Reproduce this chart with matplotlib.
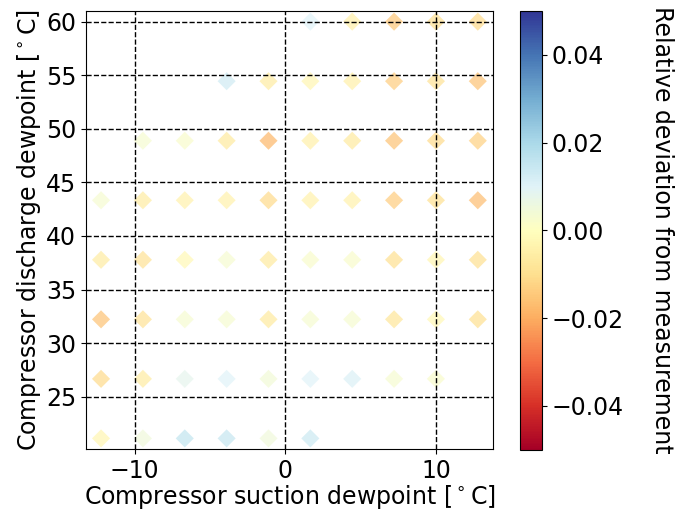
import numpy as np
import matplotlib
matplotlib.use("Agg")
import matplotlib.pyplot as plt

# -----------------------------
# Data (test points, degF grid converted to degC)
# -----------------------------
suction_f = [10, 15, 20, 25, 30, 35, 40, 45, 50, 55]
discharge_f = [70, 80, 90, 100, 110, 120, 130, 140]

# relative deviation per discharge row, None = no test point
dev_rows = {
    140: [None, None, None, None, None, 0.010, -0.005, -0.015, -0.010, -0.011],
    130: [None, None, None, 0.013, -0.006, -0.003, -0.005, -0.014, -0.009, -0.016],
    120: [None, 0.003, 0.002, -0.007, -0.018, -0.005, -0.007, -0.016, -0.011, -0.013],
    110: [0.003, -0.006, -0.004, -0.004, -0.011, -0.004, -0.004, -0.014, -0.010, -0.017],
    100: [-0.006, -0.009, -0.002, 0.003, -0.007, 0.002, 0.002, -0.010, -0.003, -0.010],
    90:  [-0.016, -0.009, 0.003, 0.003, -0.007, 0.003, 0.003, -0.008, -0.002, -0.010],
    80:  [-0.011, -0.006, 0.008, 0.010, 0.004, 0.010, 0.011, 0.003, 0.002, None],
    70:  [-0.003, 0.005, 0.016, 0.015, 0.005, 0.014, None, None, None, None],
}

def f2c(t):
    return (t - 32.0) * 5.0 / 9.0

xs, ys, devs = [], [], []
for td in discharge_f:
    for ts, d in zip(suction_f, dev_rows[td]):
        if d is None:
            continue
        xs.append(f2c(ts))
        ys.append(f2c(td))
        devs.append(d)
xs = np.array(xs)
ys = np.array(ys)
devs = np.array(devs)

# -----------------------------
# Plot
# -----------------------------
plt.rcParams['font.size'] = 17

fig = plt.figure(figsize=(6.77, 5.21), dpi=100)
ax = fig.add_axes([0.127, 0.138, 0.601, 0.841])
cax = fig.add_axes([0.768, 0.137, 0.033, 0.842])

sc = ax.scatter(xs, ys, c=devs, cmap='RdYlBu', vmin=-0.05, vmax=0.05,
                marker='D', s=85, alpha=0.7, linewidths=0)

ax.set_xlim(xs.min() - 1, xs.max() + 1)
ax.set_ylim(ys.min() - 1, ys.max() + 1)
ax.set_xticks([-10, 0, 10])
ax.set_yticks([25, 30, 35, 40, 45, 50, 55, 60])
ax.grid(True, color='k', linestyle='--', linewidth=1)
ax.set_xlabel(r'Compressor suction dewpoint [$^\circ$C]', labelpad=0)
ax.set_ylabel(r'Compressor discharge dewpoint [$^\circ$C]', labelpad=2)

# opaque colorbar even though the markers are translucent
sm = plt.cm.ScalarMappable(cmap='RdYlBu', norm=sc.norm)
cb = fig.colorbar(sm, cax=cax)
cb.set_ticks([-0.04, -0.02, 0.0, 0.02, 0.04])
cb.set_label('Relative deviation from measurement', rotation=270, labelpad=36)

fig.savefig('out.png', dpi=100)
